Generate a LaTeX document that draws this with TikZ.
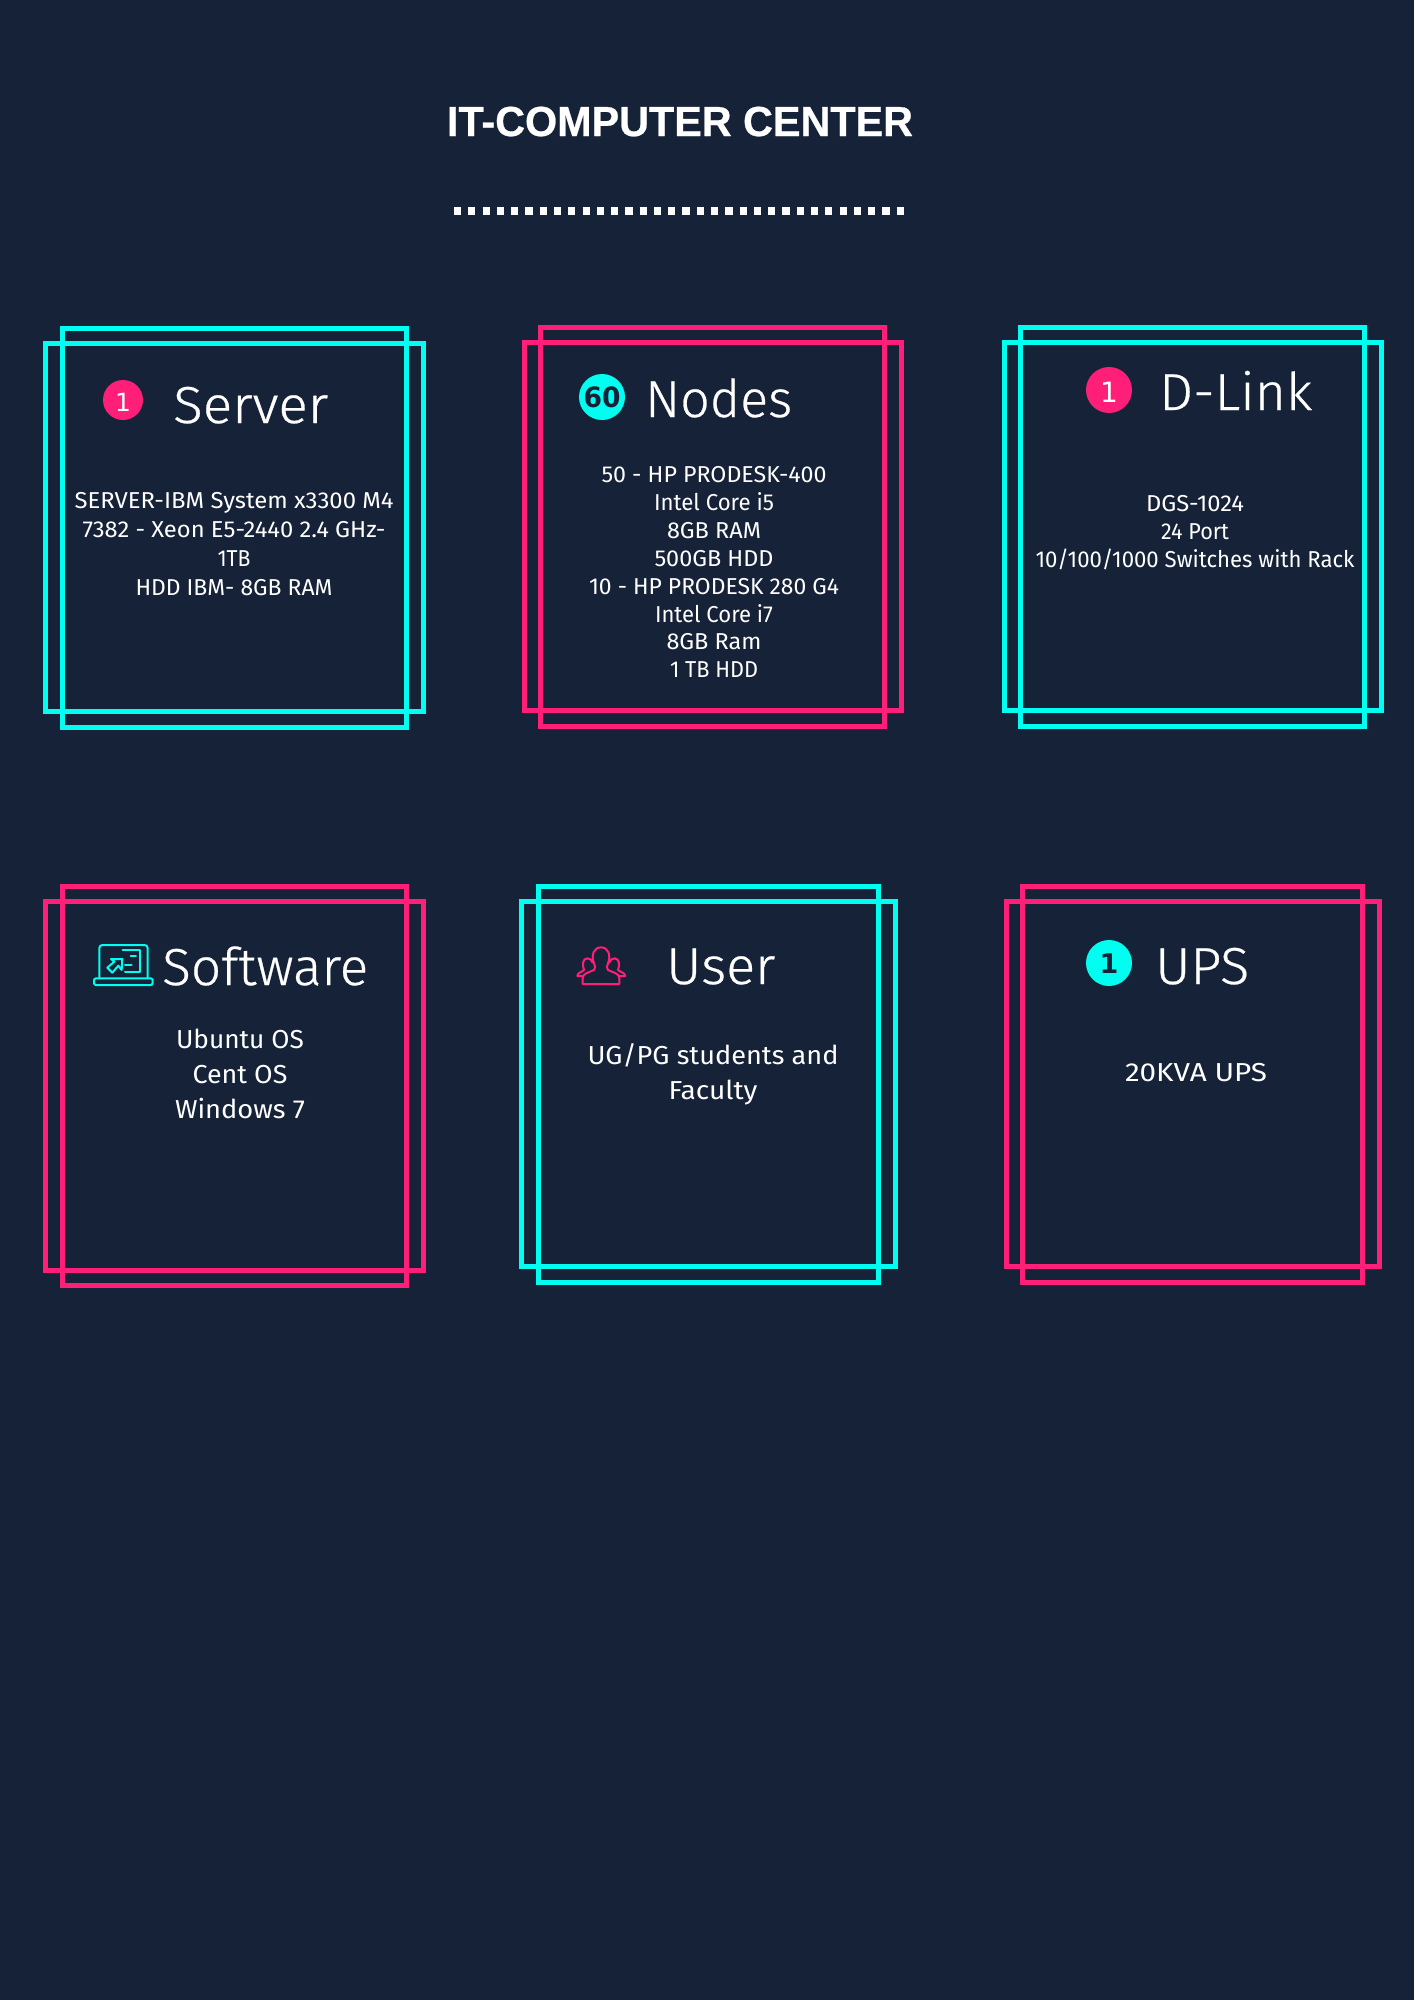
\documentclass[tikz,border=0pt]{standalone}
\usepackage{fontspec}
\usepackage{graphicx}
\newfontfamily\thinfont{Fira Sans Light}[FakeBold=0.5]
\newfontfamily\bodyfont{Fira Sans}
\newfontfamily\headfont{Liberation Sans Bold}[FakeBold=0.6]
\newfontfamily\digitfont{DejaVu Sans}
\definecolor{bg}{HTML}{162238}
\definecolor{neoncyan}{HTML}{00FFF0}
\definecolor{neonpink}{HTML}{FF1F78}
\newsavebox\fitbox
\newcommand\fitw[2]{\sbox\fitbox{#2}\pgfmathsetmacro\fx{#1/\the\wd\fitbox}\scalebox{\fx}[1]{\usebox\fitbox}}
\newcommand\twoframes[9]{%
  \draw[framepen,#1] (#2+2.5,#3+2.5) rectangle (#4-2.5,#5-2.5);
  \draw[framepen,#1] (#6+2.5,#7+2.5) rectangle (#8-2.5,#9-2.5);}
\tikzset{
  framepen/.style={line width=5pt,miter limit=10},
  bodytext/.style={anchor=base,inner sep=0pt,text=white,font=\bodyfont\fontsize{23}{28}\selectfont},
  softtext/.style={bodytext,font=\bodyfont\fontsize{26}{32}\selectfont},
  headtext/.style={anchor=base west,inner sep=0pt,text=white,font=\thinfont\fontsize{52}{60}\selectfont},
  badgetext/.style={anchor=base,inner sep=0pt,font=\digitfont\fontsize{#1}{30}\selectfont},
  badgedisc/.style={circle,inner sep=0pt,minimum size=#1,draw=none},
  iconpen/.style={line width=2pt,line join=round,line cap=round}
}
\begin{document}
\begin{tikzpicture}[x=1pt,y=-1pt]
\useasboundingbox (0,0) rectangle (1414,2000);
\fill[bg] (0,0) rectangle (1414,2000);

% title
\node[anchor=base,inner sep=0pt,text=white,font=\headfont\fontsize{42}{48}\selectfont] (title) at (680,136) {\fitw{466}{IT-COMPUTER CENTER}};
\coordinate (dotsL) at (454,211);
\coordinate (dotsR) at (905,211);
\draw[white,line width=7.5pt,dash pattern=on 7.2pt off 7.08pt] (dotsL) -- (dotsR);

% frames
\twoframes{neoncyan}{60.4}{326}{409.4}{730}{43.4}{341}{426.4}{714}
\twoframes{neonpink}{538.4}{325.3}{887.4}{729.3}{522.2}{340.3}{904.2}{713.3}
\twoframes{neoncyan}{1018.4}{325.3}{1367.4}{729.3}{1001.7}{340.3}{1384.4}{713.3}
\twoframes{neonpink}{60.4}{884.3}{409.4}{1288.3}{43.4}{899.3}{426.4}{1273.3}
\twoframes{neoncyan}{535.7}{884.3}{881.4}{1285.3}{518.7}{899.3}{898.2}{1269.3}
\twoframes{neonpink}{1019.7}{884.3}{1365.4}{1285.3}{1003.7}{899.3}{1382.4}{1269.3}

% Server
\node[badgedisc=40pt,fill=neonpink] (srvdisc) at (123,400) {};
\node[badgetext=25,text=white] (srvnum) at (123,411) {1};
\node[headtext] (srvhead) at (173,423) {\fitw{155}{Server}};
\node[bodytext] (srv1) at (234,508) {\fitw{319}{SERVER-IBM System x3300 M4}};
\node[bodytext] (srv2) at (234,537) {\fitw{303}{7382 - Xeon E5-2440 2.4 GHz-}};
\node[bodytext] (srv3) at (234,566) {\fitw{33}{1TB}};
\node[bodytext] (srv4) at (234,595) {\fitw{197}{HDD IBM- 8GB RAM}};

% Nodes
\node[badgedisc=46pt,fill=neoncyan] (nodisc) at (602,397) {};
\node[badgetext=28,text=bg,font=\digitfont\bfseries\fontsize{28}{30}\selectfont] (nonum) at (602,407) {\fitw{37}{60}};
\node[headtext] (nohead) at (645,417) {\fitw{147}{Nodes}};
\node[bodytext] (no1) at (714,482) {\fitw{225}{50 - HP PRODESK-400}};
\node[bodytext] (no2) at (714,510) {\fitw{120}{Intel Core i5}};
\node[bodytext] (no3) at (714,538) {\fitw{94}{8GB RAM}};
\node[bodytext] (no4) at (714,566) {\fitw{119}{500GB HDD}};
\node[bodytext] (no5) at (714,594) {\fitw{250}{10 - HP PRODESK 280 G4}};
\node[bodytext] (no6) at (714,622) {\fitw{118}{Intel Core i7}};
\node[bodytext] (no7) at (714,649) {\fitw{95}{8GB Ram}};
\node[bodytext] (no8) at (714,677) {\fitw{88}{1 TB HDD}};

% D-Link
\node[badgedisc=46pt,fill=neonpink] (dldisc) at (1109,390) {};
\node[badgetext=28,text=white] (dlnum) at (1109,402) {1};
\node[headtext] (dlhead) at (1159,410) {\fitw{153}{D-Link}};
\node[bodytext] (dl1) at (1195,511) {\fitw{98}{DGS-1024}};
\node[bodytext] (dl2) at (1195,539) {\fitw{68}{24 Port}};
\node[bodytext] (dl3) at (1195,567) {\fitw{319}{10/100/1000 Switches with Rack}};

% Software
\begin{scope}[shift={(85,935)},x=.3333pt,y=-.3333pt,draw=neoncyan,iconpen]
  \draw[rounded corners=3pt] (43,130) -- (43,30) -- (188,30) -- (188,130);
  \draw[rounded corners=2pt] (27,130) rectangle (203,150);
  \draw (113,45) -- (165,45) -- (165,112) -- (120,112);
  \draw (137,62) -- (153,62);
  \draw (120,90) -- (140,90);
  \draw (112,72) -- (110,105) -- (100,92) -- (82,113) -- (67,98) -- (88,80) -- (78,72) -- cycle;
\end{scope}
\node[headtext] (swhead) at (162,985) {\fitw{206}{Software}};
\node[softtext] (sw1) at (240,1048) {\fitw{128}{Ubuntu OS}};
\node[softtext] (sw2) at (240,1083) {\fitw{95}{Cent OS}};
\node[softtext] (sw3) at (240,1118) {\fitw{130}{Windows 7}};

% User
\begin{scope}[shift={(570,940)},x=.3333pt,y=-.3333pt,draw=neonpink,iconpen]
  \draw (38,132) -- (38,115) .. controls (38,100) and (55,98) .. (72,90)
    .. controls (78,85) and (75,78) .. (72,70) .. controls (62,45) and (72,22) .. (93,22)
    .. controls (114,22) and (124,45) .. (114,70) .. controls (111,78) and (108,85) .. (114,90)
    .. controls (131,98) and (148,100) .. (148,115) -- (148,132) -- cycle;
  \draw (40,108) -- (22,108) .. controls (22,98) and (38,95) .. (42,90)
    .. controls (36,75) and (38,55) .. (52,55) .. controls (60,55) and (66,60) .. (68,68);
  \draw (146,108) -- (166,108) .. controls (166,98) and (148,95) .. (144,90)
    .. controls (150,75) and (148,55) .. (134,55) .. controls (126,55) and (120,60) .. (118,68);
\end{scope}
\node[headtext] (ushead) at (666,984) {\fitw{109}{User}};
\node[softtext] (us1) at (713,1064) {\fitw{251}{UG/PG students and}};
\node[softtext] (us2) at (713,1099) {\fitw{89}{Faculty}};

% UPS
\node[badgedisc=46pt,fill=neoncyan] (updisc) at (1109,963) {};
\node[badgetext=27,text=bg,font=\digitfont\bfseries\fontsize{27}{30}\selectfont] (upnum) at (1109,973) {1};
\node[headtext] (uphead) at (1155,984) {\fitw{94}{UPS}};
\node[softtext] (up1) at (1196,1081) {\fitw{142}{20KVA UPS}};
\end{tikzpicture}
\end{document}
